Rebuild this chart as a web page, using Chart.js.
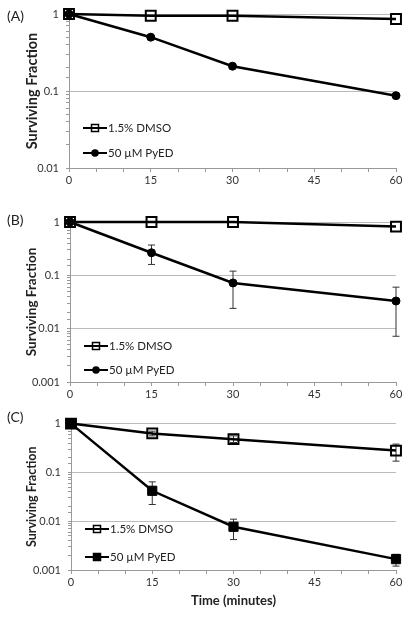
<!DOCTYPE html>
<html>
<head>
<meta charset="utf-8">
<script src="https://cdn.jsdelivr.net/npm/chart.js@4"></script>
<style>
  body { margin: 0; background: #fff; }
  canvas { position: absolute; left: 0; }
</style>
</head>
<body>
<canvas id="panelA" width="410" height="200" style="top:0"></canvas>
<canvas id="panelB" width="410" height="210" style="top:200px"></canvas>
<canvas id="panelC" width="410" height="208" style="top:410px"></canvas>
<script>
// Time points (minutes)
const minutes = [0, 15, 30, 60];
const xTickLabels = [0, 15, 30, 45, 60];
const seriesNames = ["1.5% DMSO", "50 \u00b5M PyED"];

// (A)
const dmsoA = [1, 0.95, 0.95, 0.86];
const pyedA = [1, 0.5, 0.21, 0.087];

// (B)
const dmsoB = [1, 1, 1, 0.82];
const pyedB = [1, 0.265, 0.072, 0.033];
const pyedBHigh = [1, 0.37, 0.12, 0.06];
const pyedBLow = [1, 0.16, 0.024, 0.0072];

// (C)
const dmsoC = [1, 0.63, 0.48, 0.28];
const dmsoCHigh = [1, 0.7, 0.56, 0.38];
const dmsoCLow = [1, 0.56, 0.41, 0.17];
const pyedC = [1, 0.042, 0.0077, 0.00167];
const pyedCHigh = [1, 0.064, 0.011, 0.0021];
const pyedCLow = [1, 0.022, 0.0042, 0.0012];

const FONT = 'Lato, "Liberation Sans", sans-serif';

const toPoints = (ys) => minutes.map((m, i) => ({ x: m, y: ys[i] }));

function isDecade(v) {
    const l = Math.log10(v);
    return Math.abs(l - Math.round(l)) < 1e-6;
}

// error bars, drawn under the markers
const errorBars = {
    id: "errorBars",
    beforeDatasetsDraw(chart) {
        const { ctx, scales } = chart;
        ctx.save();
        ctx.strokeStyle = "#333";
        ctx.lineWidth = 1;
        chart.data.datasets.forEach((ds) => {
            if (!ds.errHigh) return;
            minutes.forEach((m, i) => {
                if (i === 0) return;
                const x = scales.x.getPixelForValue(m);
                const yh = scales.y.getPixelForValue(ds.errHigh[i]);
                const yl = scales.y.getPixelForValue(ds.errLow[i]);
                ctx.beginPath();
                ctx.moveTo(x, yh);
                ctx.lineTo(x, yl);
                ctx.moveTo(x - 3.5, yh);
                ctx.lineTo(x + 3.5, yh);
                ctx.moveTo(x - 3.5, yl);
                ctx.lineTo(x + 3.5, yl);
                ctx.stroke();
            });
        });
        ctx.restore();
    },
};

// legend inside the plot, line + smaller marker samples
const insideLegend = {
    id: "insideLegend",
    afterDraw(chart, args, opts) {
        const { ctx, chartArea } = chart;
        ctx.save();
        chart.data.datasets.forEach((ds, i) => {
            const y = chartArea.bottom + opts.rows[i];
            const x0 = chartArea.left + 14;
            const x1 = chartArea.left + 38;
            const cx = (x0 + x1) / 2;
            ctx.strokeStyle = "#000";
            ctx.lineWidth = 2;
            ctx.beginPath();
            ctx.moveTo(x0, y);
            ctx.lineTo(x1, y);
            ctx.stroke();
            ctx.fillStyle = ds.pointBackgroundColor;
            ctx.lineWidth = 1.5;
            ctx.beginPath();
            if (ds.pointStyle === "circle") {
                ctx.arc(cx, y, 3, 0, Math.PI * 2);
            } else {
                ctx.rect(cx - 3.5, y - 3.5, 7, 7);
            }
            ctx.fill();
            ctx.stroke();
            ctx.fillStyle = "#222";
            ctx.font = "11.5px " + FONT;
            ctx.textBaseline = "middle";
            ctx.textAlign = "left";
            ctx.fillText(ds.label, x1 + 1, y + 0.5);
        });
        // panel letter
        ctx.fillStyle = "#222";
        ctx.font = "14px " + FONT;
        ctx.textBaseline = "middle";
        ctx.textAlign = "left";
        ctx.fillText(opts.panel, 7, opts.panelY);
        ctx.restore();
    },
};

function buildPanel(id, p) {
    const openSquare = {
        label: seriesNames[0],
        data: toPoints(p.dmso),
        borderColor: "#000",
        borderWidth: 2.5,
        clip: false,
        pointStyle: "rect",
        pointRadius: 7,
        pointBorderWidth: 2,
        pointBackgroundColor: "rgba(0,0,0,0)",
        pointBorderColor: "#000",
        errHigh: p.dmsoHigh,
        errLow: p.dmsoLow,
    };
    const filled = {
        label: seriesNames[1],
        data: toPoints(p.pyed),
        borderColor: "#000",
        borderWidth: 2.5,
        clip: false,
        pointStyle: p.pyedStyle,
        pointRadius: p.pyedStyle === "circle" ? 4 : 6.5,
        pointBorderWidth: 1,
        pointBackgroundColor: "#000",
        pointBorderColor: "#000",
        errHigh: p.pyedHigh,
        errLow: p.pyedLow,
    };
    return new Chart(document.getElementById(id), {
        type: "line",
        data: { datasets: [openSquare, filled] },
        plugins: [errorBars, insideLegend],
        options: {
            responsive: false,
            animation: false,
            layout: { padding: { left: 24, right: 14, top: p.top, bottom: 0 } },
            plugins: {
                legend: { display: false },
                tooltip: { enabled: false },
                insideLegend: { rows: p.legendRows, panel: p.panel, panelY: p.panelY },
            },
            scales: {
                x: {
                    type: "linear",
                    min: 0,
                    max: 60,
                    afterFit: (s) => { s.height = p.xHeight; },
                    ticks: {
                        stepSize: 5,
                        autoSkip: false,
                        maxRotation: 0,
                        padding: 2,
                        color: "#333",
                        font: { family: FONT, size: 11 },
                        callback: (v) => (xTickLabels.includes(v) ? String(v) : ""),
                    },
                    grid: {
                        color: "rgba(0,0,0,0)",
                        tickColor: "#999",
                        tickLength: 4,
                    },
                    border: { color: "#999", width: 1 },
                    title: {
                        display: p.xTitle,
                        text: "Time (minutes)",
                        color: "#222",
                        font: { family: FONT, size: 13, weight: "bold" },
                        padding: { top: 0, bottom: 9 },
                    },
                },
                y: {
                    type: "logarithmic",
                    min: p.yMin,
                    max: 1,
                    afterFit: (s) => { s.width = p.yWidth; },
                    ticks: {
                        autoSkip: false,
                        padding: 7,
                        color: "#333",
                        font: { family: FONT, size: 11 },
                        callback: (v) => (isDecade(v) ? String(v) : ""),
                    },
                    grid: {
                        color: (c) => (c.tick && isDecade(c.tick.value) ? "#bbb" : "rgba(0,0,0,0)"),
                        tickColor: "#999",
                        tickLength: 3,
                    },
                    border: { color: "#999", width: 1 },
                    title: {
                        display: true,
                        text: "Surviving Fraction",
                        color: "#222",
                        font: { family: FONT, size: p.yTitleSize, weight: "bold" },
                        padding: { top: 0, bottom: 0 },
                    },
                },
            },
        },
    });
}

buildPanel("panelA", {
    panel: "(A)", panelY: 16, top: 14, xHeight: 32, yWidth: 45, yMin: 0.01, yTitleSize: 14.5,
    dmso: dmsoA, pyed: pyedA, pyedStyle: "circle",
    legendRows: [-40, -15], xTitle: false,
});
buildPanel("panelB", {
    panel: "(B)", panelY: 20, top: 22, xHeight: 28, yWidth: 46, yMin: 0.001, yTitleSize: 13.5,
    dmso: dmsoB, pyed: pyedB, pyedHigh: pyedBHigh, pyedLow: pyedBLow, pyedStyle: "circle",
    legendRows: [-36, -12], xTitle: false,
});
buildPanel("panelC", {
    panel: "(C)", panelY: 7, top: 12, xHeight: 48, yWidth: 47, yMin: 0.001, yTitleSize: 12.5,
    dmso: dmsoC, dmsoHigh: dmsoCHigh, dmsoLow: dmsoCLow,
    pyed: pyedC, pyedHigh: pyedCHigh, pyedLow: pyedCLow, pyedStyle: "rect",
    legendRows: [-41, -13], xTitle: true,
});
</script>
</body>
</html>
